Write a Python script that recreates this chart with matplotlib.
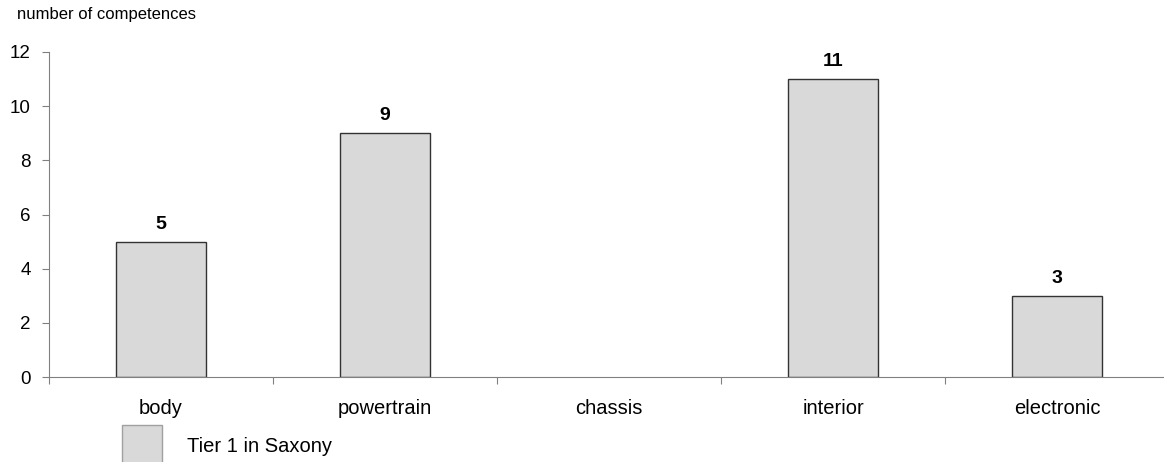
import matplotlib.pyplot as plt
from matplotlib.patches import Rectangle
import numpy as np

categories = ["body", "powertrain", "chassis", "interior", "electronic"]
values = [5, 9, 0, 11, 3]
labels = ["5", "9", "", "11", "3"]
yticks = [0, 2, 4, 6, 8, 10, 12]
series_name = "Tier 1 in Saxony"

plt.rcParams['font.family'] = ['Liberation Sans', 'DejaVu Sans']

W, H = 1164, 462
fig = plt.figure(figsize=(W / 100, H / 100), dpi=100)
ax = fig.add_axes([49 / W, 85 / H, 1120 / W, 325 / H])

x = np.arange(len(categories))
edges = ["#333333" if v > 0 else "none" for v in values]
ax.bar(x, values, width=0.4, color="#d9d9d9", edgecolor=edges, linewidth=1.0)
for xi, v, lab in zip(x, values, labels):
    if lab:
        ax.text(xi, v + 0.48, lab, ha="center", va="baseline", fontsize=14, fontweight="bold")

ax.set_xlim(-0.5, len(categories) - 0.5)
ax.set_ylim(0, 12)
ax.set_yticks(yticks)
ax.tick_params(axis="y", labelsize=13.5, length=5, color="#808080", pad=8)

ax.set_xticks(np.arange(len(categories) + 1) - 0.5)
ax.set_xticklabels([])
ax.tick_params(axis="x", which="major", length=5, color="#808080", direction="out")
ax.set_xticks(x, minor=True)
ax.set_xticklabels(categories, minor=True)
ax.tick_params(axis="x", which="minor", length=0, labelsize=14.5, pad=16)

for s in ["top", "right"]:
    ax.spines[s].set_visible(False)
for s in ["left", "bottom"]:
    ax.spines[s].set_color("#808080")

fig.text(17 / W, 1 - 14 / H, "number of competences", fontsize=12, va="center", ha="left")

fig.patches.append(Rectangle((122 / W, -4 / H), 40 / W, 41 / H, transform=fig.transFigure,
                             facecolor="#d9d9d9", edgecolor="#a0a0a0", linewidth=1.0))
fig.text(187 / W, 1 - 447 / H, series_name, fontsize=14.5, va="center", ha="left")

fig.savefig("out.png", dpi=100)
